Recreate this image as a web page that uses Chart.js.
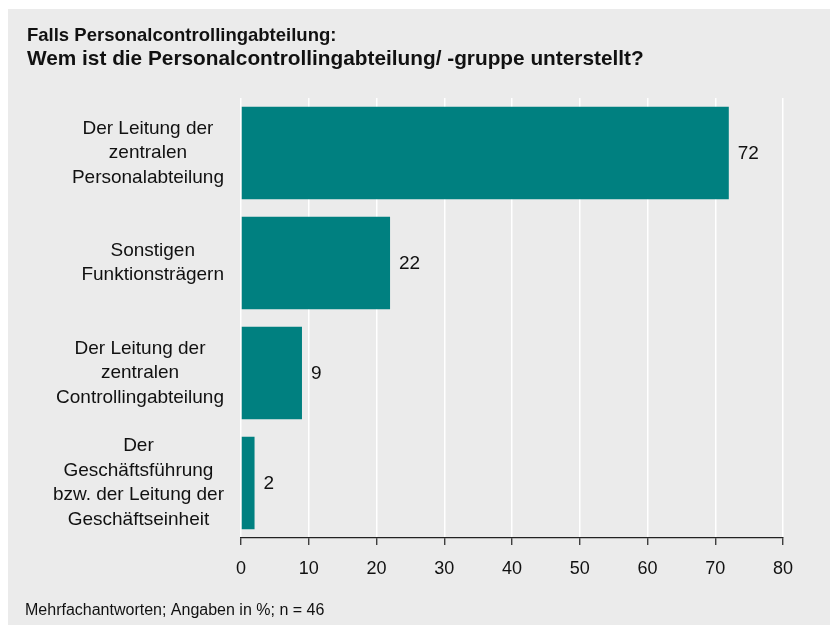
<!DOCTYPE html>
<html>
<head>
<meta charset="utf-8">
<script src="https://cdn.jsdelivr.net/npm/chart.js@4"></script>
<style>
  body { margin: 0; background: #fff; }
  #wrap { width: 830px; height: 625px; }
</style>
</head>
<body>
<div id="wrap"><canvas id="myChart" width="830" height="625"></canvas></div>
<script>
// data
var categories = [
    ['Der Leitung der', 'zentralen', 'Personalabteilung'],
    ['Sonstigen', 'Funktionsträgern'],
    ['Der Leitung der', 'zentralen', 'Controllingabteilung'],
    ['Der', 'Geschäftsführung', 'bzw. der Leitung der', 'Geschäftseinheit']
];
var values = [72, 22, 9, 2];
var xTicks = [0, 10, 20, 30, 40, 50, 60, 70, 80];

var titleLine1 = 'Falls Personalcontrollingabteilung:';
var titleLine2 = 'Wem ist die Personalcontrollingabteilung/ -gruppe unterstellt?';
var footnote = 'Mehrfachantworten; Angaben in %; n = 46';

var FONT = '"Liberation Sans", Arial, sans-serif';

// background, titles, category labels, value labels
var decor = {
    id: 'decor',
    beforeDraw: function(chart) {
        var c = chart.ctx;
        c.save();
        c.fillStyle = '#ffffff';
        c.fillRect(0, 0, chart.width, chart.height);
        c.fillStyle = '#ebebeb';
        c.fillRect(8, 9, chart.width - 8, chart.height - 9);
        c.restore();
    },
    afterDraw: function(chart) {
        var c = chart.ctx;
        var yScale = chart.scales.y;
        c.save();
        c.fillStyle = '#111';
        c.textBaseline = 'alphabetic';
        c.textAlign = 'left';
        c.font = 'bold 18.5px ' + FONT;
        c.fillText(titleLine1, 27, 40.5);
        c.font = 'bold 20.8px ' + FONT;
        c.fillText(titleLine2, 27, 64.5);
        c.font = '16px ' + FONT;
        c.fillText(footnote, 25, 615);

        // category labels: every label centred on its own widest line
        c.font = '19px ' + FONT;
        c.textAlign = 'center';
        c.textBaseline = 'middle';
        var lh = 24.5;
        categories.forEach(function(lines, i) {
            var w = 0;
            lines.forEach(function(l) { w = Math.max(w, c.measureText(l).width); });
            var cx = 224 - w / 2;
            var cy = yScale.getPixelForTick(i);
            var y0 = cy - (lines.length - 1) * lh / 2;
            lines.forEach(function(l, k) { c.fillText(l, cx, y0 + k * lh); });
        });

        // value labels at bar ends
        var meta = chart.getDatasetMeta(0);
        c.textAlign = 'left';
        meta.data.forEach(function(bar, i) {
            c.fillText(String(values[i]), bar.x + 9, bar.y + 1);
        });
        c.restore();
    }
};

var ctx = document.getElementById('myChart').getContext('2d');
var chart = new Chart(ctx, {
    type: 'bar',
    data: {
        labels: categories,
        datasets: [{
            data: values,
            backgroundColor: '#008080',
            borderWidth: 0,
            categoryPercentage: 1,
            barPercentage: 0.84
        }]
    },
    options: {
        indexAxis: 'y',
        responsive: false,
        animation: false,
        layout: { padding: { top: 98, right: 47, left: 0, bottom: 0 } },
        plugins: {
            legend: { display: false },
            tooltip: { enabled: false }
        },
        scales: {
            x: {
                min: 0,
                max: 80,
                afterBuildTicks: function(scale) {
                    scale.ticks = xTicks.map(function(v) { return { value: v }; });
                },
                afterFit: function(scale) { scale.height = 87; },
                grid: {
                    color: '#ffffff',
                    lineWidth: 1.5,
                    tickColor: '#222',
                    tickLength: 7,
                    tickWidth: 1.2
                },
                border: { display: true, color: '#222', width: 1.2 },
                ticks: {
                    color: '#111',
                    padding: 13,
                    font: { family: FONT, size: 18 }
                }
            },
            y: {
                afterFit: function(scale) { scale.width = 241; },
                grid: { display: false },
                border: { display: false },
                ticks: { display: false }
            }
        }
    },
    plugins: [decor]
});
</script>
</body>
</html>
